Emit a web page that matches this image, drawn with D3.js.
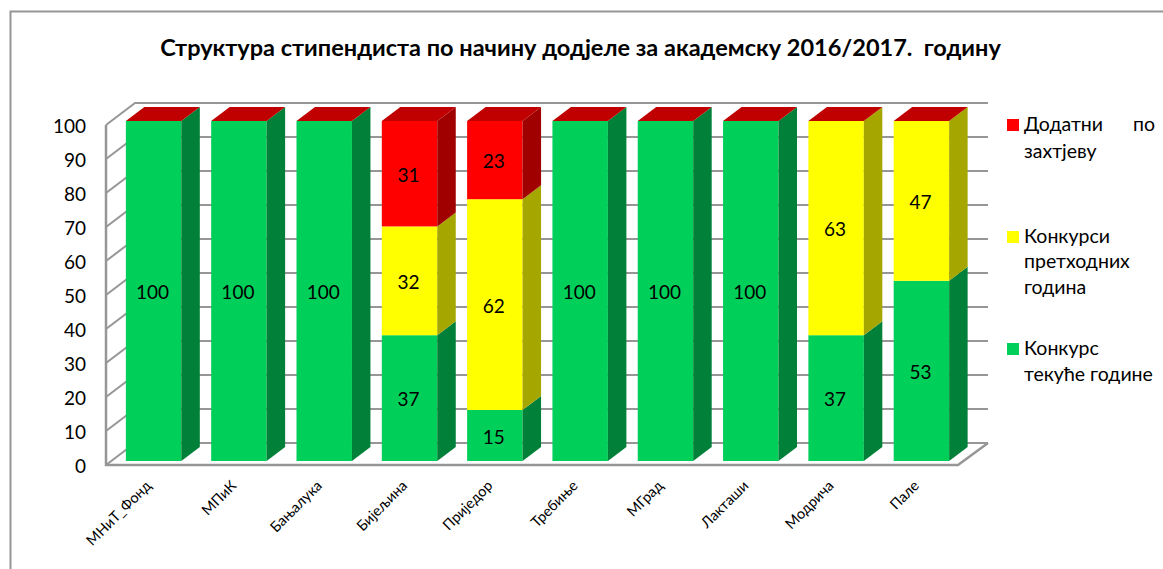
<!DOCTYPE html>
<html>
<head>
<meta charset="utf-8">
<script src="https://cdn.jsdelivr.net/npm/d3@7"></script>
<style>
  body { margin: 0; background: #fff; }
  text { font-family: Lato, "Noto Sans", sans-serif; fill: #000; }
</style>
</head>
<body>
<div id="chart"></div>
<script>
var titleText = "Структура стипендиста по начину додјеле за академску 2016/2017.  годину";
var categories = ["МНиТ_Фонд", "МПиК", "Бањалука", "Бијељина", "Приједор", "Требиње", "МГрад", "Лакташи", "Модрича", "Пале"];
var tekuce = [100, 100, 100, 37, 15, 100, 100, 100, 37, 53];
var prethodne = [0, 0, 0, 32, 62, 0, 0, 0, 63, 47];
var dodatni = [0, 0, 0, 31, 23, 0, 0, 0, 0, 0];
var yTicks = [0, 10, 20, 30, 40, 50, 60, 70, 80, 90, 100];
var seriesKeys = ["tekuce", "prethodne", "dodatni"];
var front = { tekuce: "#00d05a", prethodne: "#ffff00", dodatni: "#ff0000" };
var side = { tekuce: "#008038", prethodne: "#a6a600", dodatni: "#a00000" };
var topColor = "#c00000";
var gridColor = "#969696";

var svg = d3.select("#chart").append("svg")
  .attr("width", 1163)
  .attr("height", 569)
  .style("display", "block");

// chart frame, only left and top edges are in the picture
svg.append("path")
  .attr("d", "M10.5,569V11.5H1163")
  .attr("fill", "none")
  .attr("stroke", gridColor)
  .attr("stroke-width", 2);

svg.append("text")
  .attr("x", 580.5)
  .attr("y", 56)
  .attr("text-anchor", "middle")
  .attr("font-size", 23.5)
  .attr("font-weight", "bold")
  .style("white-space", "pre")
  .text(titleText);

var xx = d3.scaleBand().domain(categories).range([96, 979]).padding(0.35);
var yy = d3.scaleLinear().domain([0, 100]).range([465, 125]); // front edge of the walls

var wallDx = 29, wallDy = -22;   // depth of the floor
var barShift = -4, barDx = 18.5, barDy = -14;   // depth of one bar
var wallLeft = 106, wallRight = 958;

// walls: gridlines on the back, diagonals on the left side
var walls = svg.append("g").attr("fill", "none").attr("stroke", gridColor).attr("stroke-width", 2);
yTicks.forEach(function (t) {
  walls.append("path").attr("d", d3.line()([
    [wallLeft, yy(t)], [wallLeft + wallDx, yy(t) + wallDy], [wallRight + 30, yy(t) + wallDy]
  ]));
});
walls.append("path").attr("stroke-width", 2.5).attr("d", d3.line()([
  [wallLeft, yy(100)], [wallLeft, yy(0)], [wallRight, yy(0)], [wallRight + 30, yy(0) + wallDy]
]));

// stacked boxes
var rows = categories.map(function (c, i) {
  return { cat: c, tekuce: tekuce[i], prethodne: prethodne[i], dodatni: dodatni[i] };
});
var stacked = d3.stack().keys(seriesKeys)(rows);

var bars = svg.append("g");
stacked.forEach(function (s) {
  var g = bars.append("g");
  g.selectAll(".front").data(s).enter().append("rect")
    .attr("class", "front")
    .attr("x", function (d) { return xx(d.data.cat); })
    .attr("y", function (d) { return yy(d[1]) + barShift; })
    .attr("width", xx.bandwidth())
    .attr("height", function (d) { return yy(d[0]) - yy(d[1]); })
    .attr("fill", front[s.key]);
  g.selectAll(".side").data(s).enter().append("path")
    .attr("class", "side")
    .attr("fill", side[s.key])
    .attr("d", function (d) {
      var r = xx(d.data.cat) + xx.bandwidth();
      var y0 = yy(d[0]) + barShift, y1 = yy(d[1]) + barShift;
      return d3.line()([[r, y0], [r + barDx, y0 + barDy], [r + barDx, y1 + barDy], [r, y1]]) + "Z";
    });
});
// top faces come from the last series even when its value is 0
bars.append("g").selectAll("path").data(stacked[stacked.length - 1]).enter().append("path")
  .attr("fill", topColor)
  .attr("d", function (d) {
    var l = xx(d.data.cat), r = l + xx.bandwidth(), y1 = yy(d[1]) + barShift;
    return d3.line()([[l, y1], [l + barDx, y1 + barDy], [r + barDx, y1 + barDy], [r, y1]]) + "Z";
  });

// value labels
stacked.forEach(function (s) {
  svg.append("g").selectAll("text").data(s.filter(function (d) { return d[1] > d[0]; })).enter().append("text")
    .attr("x", function (d) { return xx(d.data.cat) + xx.bandwidth() / 2 - 1; })
    .attr("y", function (d) { return yy((d[0] + d[1]) / 2) + barShift + 1.5; })
    .attr("dy", "0.35em")
    .attr("text-anchor", "middle")
    .attr("font-size", 19)
    .text(function (d) { return d[1] - d[0]; });
});

// axes
var yAxis = svg.append("g")
  .attr("transform", "translate(90,1.5)")
  .call(d3.axisLeft(yy).tickValues(yTicks).tickSize(0).tickPadding(4));
yAxis.select(".domain").remove();
yAxis.selectAll("text").attr("font-size", 19).style("font-family", null);

var xAxis = svg.append("g")
  .attr("transform", "translate(0,483)")
  .call(d3.axisBottom(xx).tickSize(0).tickPadding(0));
xAxis.select(".domain").remove();
xAxis.selectAll("text")
  .attr("font-size", 14.5)
  .attr("text-anchor", "end")
  .attr("dy", "0.35em")
  .attr("transform", "translate(-5,0) rotate(-45)")
  .style("font-family", null);

// legend
var legendItems = [
  { key: "dodatni", box: 119, lines: [["Додатни", 131], ["захтјеву", 158]] },
  { key: "prethodne", box: 231, lines: [["Конкурси", 243], ["претходних", 268], ["година", 294]] },
  { key: "tekuce", box: 343, lines: [["Конкурс", 355], ["текуће године", 381]] }
];
var legend = svg.append("g").attr("font-size", 19.5);
legendItems.forEach(function (it) {
  legend.append("rect").attr("x", 1007).attr("y", it.box)
    .attr("width", 12).attr("height", 12).attr("fill", front[it.key]);
  it.lines.forEach(function (l) {
    legend.append("text").attr("x", 1024).attr("y", l[1]).text(l[0]);
  });
});
legend.append("text").attr("x", 1155).attr("y", 131).attr("text-anchor", "end").text("по");
</script>
</body>
</html>
